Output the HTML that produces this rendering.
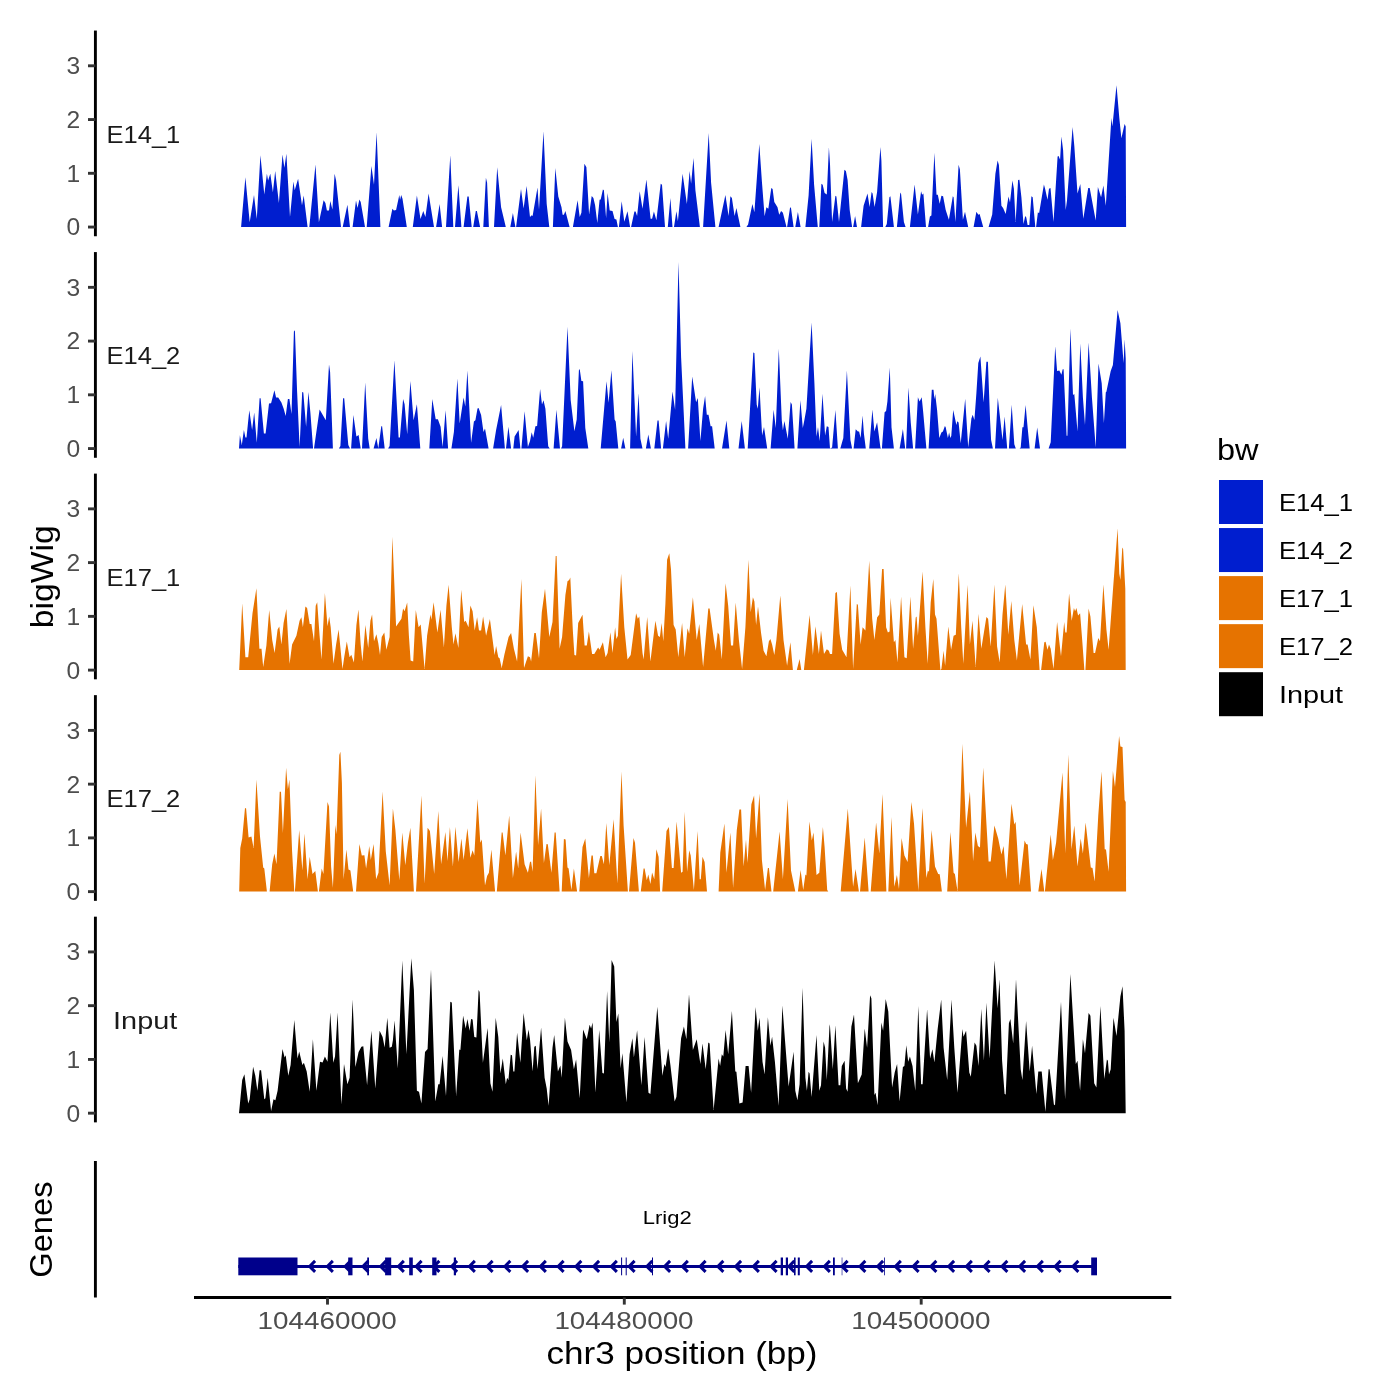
<!DOCTYPE html>
<html><head><meta charset="utf-8"><title>bigWig tracks</title>
<style>html,body{margin:0;padding:0;background:#fff;width:1400px;height:1400px;overflow:hidden;font-family:"Liberation Sans",sans-serif}</style>
</head><body>
<svg width="1400" height="1400" viewBox="0 0 1400 1400" style="display:block;will-change:transform">
<rect width="1400" height="1400" fill="#fff"/>
<g font-family="'Liberation Sans', sans-serif">
<path d="M241.1,227.1L241.1,227.1L245.4,177.3L249.7,222.3L254.0,195.1L256.8,219.1L260.4,155.3L264.3,194.5L266.9,173.7L268.1,180.6L270.3,173.7L272.9,192.3L275.2,170.9L278.9,203.1L282.5,154.4L284.4,167.7L286.4,153.8L290.0,217.0L293.4,181.6L294.7,190.2L298.1,178.8L302.0,205.2L303.7,195.6L307.6,227.1L309.3,227.1L315.5,164.5L318.9,222.3L323.6,200.3L325.4,203.1L326.9,210.6L329.0,210.6L330.3,200.9L332.4,209.5L334.6,173.7L336.1,180.6L341.0,227.1L342.7,227.1L347.4,204.8L350.0,227.1L352.6,227.1L356.0,200.5L357.5,208.0L359.4,199.4L360.7,202.0L365.0,227.1L366.7,227.1L371.4,166.0L374.0,184.8L376.6,132.3L380.4,227.1L388.6,227.1L392.4,208.8L393.9,210.6L396.1,210.1L399.3,195.1L400.1,199.8L401.2,195.1L402.5,198.8L406.8,227.1L412.8,227.1L416.9,195.6L420.5,219.1L423.3,211.0L425.4,217.0L428.6,193.4L434.0,227.1L436.1,227.1L439.6,204.1L442.1,227.1L446.0,227.1L450.3,155.3L453.3,227.1L455.0,227.1L458.4,185.3L461.4,227.1L463.6,227.1L467.4,196.6L468.7,196.6L471.7,227.1L473.2,227.1L475.8,211.0L476.9,211.0L480.1,227.1L483.3,227.1L485.9,177.8L487.1,182.7L488.9,227.1L494.0,227.1L497.2,167.3L501.1,207.3L505.8,227.1L510.3,227.1L512.9,213.1L515.4,227.1L516.1,227.1L521.0,189.1L523.6,208.4L526.6,185.9L530.0,217.0L531.7,215.3L532.6,215.9L537.5,187.4L539.0,209.5L543.5,131.3L546.7,204.1L549.3,227.1L552.9,227.1L555.3,168.1L558.3,196.6L561.5,207.3L562.6,214.8L563.9,214.8L565.4,211.0L569.6,227.1L572.9,227.1L577.6,200.3L579.7,217.0L581.4,212.7L584.4,163.8L586.4,167.3L589.1,214.4L591.7,196.0L593.4,198.1L595.1,205.2L597.3,223.0L599.6,199.8L600.7,199.4L602.9,189.6L603.9,190.2L606.1,218.1L607.6,193.0L609.7,210.6L612.5,211.0L614.6,219.1L616.4,219.6L617.9,227.1L618.9,227.1L621.7,201.3L624.3,221.7L627.5,211.2L630.1,227.1L631.1,227.1L634.4,211.6L635.6,211.6L637.1,215.9L639.7,191.3L642.5,208.8L646.4,179.5L650.6,218.7L652.1,218.7L653.9,211.6L656.4,220.2L660.7,183.8L662.0,184.8L665.0,227.1L667.8,227.1L670.4,198.1L672.5,227.1L674.0,227.1L676.4,211.2L677.9,221.3L682.6,173.7L686.9,204.1L689.6,170.9L691.1,183.8L693.5,158.1L695.4,190.2L699.9,227.1L703.1,227.1L708.7,133.0L711.1,182.7L715.4,227.1L718.6,227.1L725.4,195.1L728.6,215.9L730.4,196.2L731.9,198.1L734.6,215.9L736.4,208.0L740.4,227.1L746.4,227.1L748.1,224.5L752.4,204.1L754.4,212.3L759.3,144.1L761.9,181.6L764.6,216.3L766.4,207.3L768.3,208.8L771.3,188.1L772.6,189.1L774.3,202.0L777.5,207.3L779.2,214.8L781.1,211.0L782.9,212.7L786.5,227.1L787.1,227.1L790.1,207.3L791.0,208.0L793.6,227.1L795.3,227.1L797.9,212.1L800.6,227.1L805.4,227.1L808.6,195.6L811.6,138.8L814.1,184.8L817.8,227.1L819.3,227.1L821.4,183.8L822.7,184.8L824.6,193.0L826.8,194.5L828.9,147.3L830.0,164.1L832.1,221.9L835.4,195.8L836.4,196.6L839.0,221.9L844.4,169.8L845.9,171.1L847.6,180.1L849.7,210.1L852.1,227.1L853.1,227.1L855.1,215.9L857.0,227.1L861.1,227.1L863.6,205.8L867.5,193.4L869.6,206.9L871.6,191.9L872.6,193.4L874.6,206.9L877.1,191.9L880.4,146.9L881.4,160.8L883.1,227.1L885.3,227.1L886.8,224.1L889.4,197.3L890.4,196.2L893.9,227.1L896.9,227.1L900.3,192.6L901.1,194.1L903.9,221.9L905.6,227.1L909.9,227.1L914.6,184.4L917.9,214.4L921.1,191.3L922.1,194.7L923.4,193.4L926.0,227.1L928.1,227.1L929.9,216.6L931.4,215.5L934.4,152.7L936.5,194.7L937.8,194.7L939.7,203.7L941.4,195.8L943.1,196.2L945.7,210.1L948.9,219.8L952.8,196.2L953.6,197.3L955.4,221.9L958.6,164.7L959.9,169.4L962.9,219.8L965.0,211.8L968.2,227.1L973.6,227.1L976.4,211.8L978.3,214.8L979.6,214.0L983.2,227.1L988.6,227.1L992.2,214.4L995.4,173.7L997.6,160.4L998.9,165.1L1001.4,205.8L1003.1,208.0L1005.7,214.0L1008.5,196.6L1010.0,202.6L1012.4,180.6L1013.9,188.7L1015.6,221.9L1018.1,180.1L1019.4,179.7L1021.4,197.3L1023.5,224.1L1025.2,216.1L1026.3,217.6L1027.6,225.1L1029.3,225.1L1031.4,196.2L1032.7,197.3L1035.3,227.1L1036.1,227.1L1037.9,212.3L1039.1,213.3L1043.9,184.4L1045.1,188.7L1047.5,199.8L1049.0,188.7L1050.5,188.1L1053.5,221.9L1057.6,156.6L1058.6,155.9L1060.1,159.8L1061.4,136.6L1063.1,150.1L1065.7,210.1L1067.0,200.5L1072.6,127.0L1074.3,145.8L1077.5,193.4L1080.3,184.0L1083.3,218.7L1088.2,188.1L1089.7,188.1L1095.7,220.4L1097.9,187.0L1101.1,197.3L1103.4,185.5L1105.8,205.8L1111.4,118.0L1112.4,126.6L1116.5,85.2L1119.3,118.0L1121.4,138.3L1124.6,124.0L1125.7,126.6L1126.1,227.1L1126.1,227.1Z" fill="#001ECF"/>
<line x1="95.4" x2="95.4" y1="30.55" y2="236.25" stroke="#000" stroke-width="2.9"/>
<line x1="88" x2="95.4" y1="227.05" y2="227.05" stroke="#333" stroke-width="2.9"/>
<text x="80.2" y="235.45" font-size="23.5" fill="#4D4D4D" text-anchor="end" textLength="13.7" lengthAdjust="spacingAndGlyphs">0</text>
<line x1="88" x2="95.4" y1="173.30" y2="173.30" stroke="#333" stroke-width="2.9"/>
<text x="80.2" y="181.70" font-size="23.5" fill="#4D4D4D" text-anchor="end" textLength="13.7" lengthAdjust="spacingAndGlyphs">1</text>
<line x1="88" x2="95.4" y1="119.55" y2="119.55" stroke="#333" stroke-width="2.9"/>
<text x="80.2" y="127.95" font-size="23.5" fill="#4D4D4D" text-anchor="end" textLength="13.7" lengthAdjust="spacingAndGlyphs">2</text>
<line x1="88" x2="95.4" y1="65.80" y2="65.80" stroke="#333" stroke-width="2.9"/>
<text x="80.2" y="74.20" font-size="23.5" fill="#4D4D4D" text-anchor="end" textLength="13.7" lengthAdjust="spacingAndGlyphs">3</text>
<text x="106.50" y="142.55" font-size="24" fill="#1A1A1A" textLength="73.8" lengthAdjust="spacingAndGlyphs">E14_1</text>
<path d="M239.0,448.6L239.0,448.6L239.9,435.3L241.8,444.9L243.9,429.9L245.4,437.4L246.5,437.4L249.3,410.2L252.1,429.9L254.2,412.4L256.8,442.8L259.6,398.2L260.6,398.2L263.9,433.6L265.6,433.6L269.0,403.6L271.1,403.2L274.4,390.3L276.1,397.4L278.2,397.4L281.4,402.5L283.6,408.5L285.7,416.0L287.9,398.9L289.4,398.9L291.5,413.9L293.9,331.4L294.9,330.3L297.1,391.4L299.6,447.1L302.2,392.0L303.3,392.4L306.1,426.7L308.4,392.0L310.4,412.8L313.1,448.6L314.0,448.6L319.6,409.6L325.8,420.3L329.0,364.6L330.1,372.1L332.9,448.6L338.9,448.6L340.4,446.0L343.1,398.2L344.2,398.2L348.3,444.9L350.0,448.6L351.1,448.6L353.4,414.9L356.4,436.4L358.6,434.9L360.7,448.6L362.0,448.6L365.2,382.4L368.2,438.5L369.7,448.6L373.6,448.6L376.4,437.9L378.3,448.2L381.3,426.3L382.1,426.3L384.7,448.6L388.1,448.6L389.6,446.0L394.4,360.3L398.6,437.4L399.9,437.4L403.1,398.9L404.6,404.2L407.2,434.2L410.4,381.1L413.6,420.3L416.9,404.2L420.3,448.6L429.3,448.6L432.3,398.9L435.7,419.2L437.9,419.2L440.6,426.7L442.6,447.1L445.6,410.2L448.1,448.6L451.4,448.6L453.9,432.1L457.4,378.5L459.7,423.5L463.6,397.4L465.3,406.4L467.4,370.6L471.1,442.8L473.9,421.4L475.4,420.3L477.5,408.5L478.6,408.1L481.1,414.9L483.5,432.1L485.0,428.4L488.6,448.6L493.1,448.6L496.1,429.9L501.1,404.9L504.9,448.6L506.0,448.6L508.4,426.7L511.1,448.6L513.3,448.6L514.6,436.4L518.6,429.9L520.4,448.6L521.4,448.6L524.6,411.3L527.9,447.1L530.0,440.9L531.7,432.3L533.2,437.7L535.4,426.3L537.1,425.9L540.1,389.0L542.0,404.4L543.5,400.2L545.4,408.7L548.2,446.2L549.7,448.6L553.6,448.6L556.4,409.8L560.0,448.6L561.1,448.6L562.1,446.2L567.5,326.7L570.7,400.2L574.4,431.2L576.7,419.4L578.9,370.2L579.7,369.1L581.4,380.9L583.1,381.3L585.3,428.0L588.3,448.6L600.7,448.6L606.5,381.3L608.6,402.7L611.4,370.2L614.6,419.4L615.7,421.6L618.3,448.6L621.1,448.6L623.2,437.7L625.4,448.6L630.1,448.6L632.4,350.9L636.1,436.6L638.6,393.3L640.4,438.7L642.5,448.6L645.9,448.6L648.3,434.4L650.9,448.6L654.3,448.6L657.5,420.5L658.6,420.5L661.1,448.6L662.9,448.6L666.1,420.9L668.2,438.7L672.5,391.6L675.1,409.8L678.5,261.9L681.1,357.3L685.4,448.6L688.1,448.6L692.2,376.6L696.1,402.3L697.8,398.0L700.4,440.9L703.1,408.7L705.1,395.9L706.8,414.7L708.5,414.7L710.6,426.3L712.1,426.3L714.7,448.6L722.0,448.6L726.5,420.5L729.3,448.6L738.5,448.6L741.7,420.9L744.9,448.6L747.7,448.6L753.3,352.4L754.4,353.0L756.7,404.4L757.8,408.7L759.5,387.3L762.1,435.5L764.0,426.9L767.2,448.6L770.6,448.6L773.6,409.8L775.8,428.0L778.8,348.7L781.8,420.5L782.9,430.2L784.4,420.9L787.8,438.7L790.6,401.9L791.9,404.4L794.6,448.6L797.4,448.6L800.4,400.2L802.8,428.0L804.3,420.5L806.4,408.7L811.6,322.4L814.4,383.0L816.5,436.6L818.0,426.9L819.7,440.9L822.5,393.7L825.1,435.5L826.8,426.3L828.5,426.9L830.0,448.6L832.1,447.5L835.4,410.0L837.9,448.6L840.3,448.6L843.3,437.9L846.9,370.4L850.4,440.0L852.1,448.6L853.6,448.6L855.7,429.3L857.9,431.4L859.1,431.4L860.6,437.9L862.6,415.4L863.9,433.6L865.8,448.6L869.2,448.6L872.4,409.4L874.4,431.4L877.1,422.2L880.4,447.5L881.0,448.6L881.9,448.6L884.6,412.2L886.1,411.1L887.4,401.4L889.8,367.6L891.5,427.2L893.9,448.6L899.6,448.6L902.9,428.9L905.2,448.6L906.1,448.6L908.4,387.5L910.8,422.9L913.1,448.6L915.1,448.6L917.9,397.2L919.6,401.4L921.7,397.2L923.2,412.2L926.4,448.6L928.6,448.6L931.8,389.7L933.5,389.7L934.4,399.3L935.2,393.9L937.1,410.0L939.3,437.9L941.4,432.5L942.9,431.4L944.9,426.1L945.7,427.2L947.9,437.9L949.1,432.5L950.4,437.9L951.3,435.7L953.2,410.0L956.4,425.0L957.3,421.2L958.6,422.4L960.7,443.2L965.2,398.7L968.2,447.5L971.4,418.6L972.7,414.7L974.4,420.1L976.4,392.9L978.3,362.9L980.4,356.4L983.6,402.5L986.4,361.8L987.9,361.8L990.1,420.7L991.1,440.0L992.9,448.6L995.0,448.6L997.8,397.8L1000.4,420.7L1002.5,440.0L1004.6,416.4L1007.2,448.6L1008.9,448.6L1011.7,404.7L1014.3,444.3L1015.8,448.6L1019.6,448.6L1020.7,447.5L1022.4,427.2L1023.5,427.2L1025.6,405.1L1027.6,427.2L1029.7,448.6L1034.6,448.6L1037.2,427.6L1040.0,448.6L1048.6,448.6L1050.7,442.2L1055.2,346.2L1057.1,371.0L1059.3,370.4L1061.4,374.7L1062.7,369.3L1063.6,369.3L1066.6,435.7L1067.4,435.7L1070.4,328.6L1073.0,395.0L1074.3,393.9L1077.5,431.4L1080.3,343.6L1082.9,397.2L1085.0,425.0L1088.6,342.5L1091.9,397.2L1095.7,447.5L1098.5,363.5L1101.7,383.2L1103.9,422.9L1105.8,392.2L1106.4,391.8L1110.7,371.0L1112.9,365.0L1117.6,309.9L1120.4,323.2L1123.6,362.9L1124.6,339.3L1125.7,358.6L1126.1,448.6L1126.1,448.6Z" fill="#001ECF"/>
<line x1="95.4" x2="95.4" y1="252.08" y2="457.78" stroke="#000" stroke-width="2.9"/>
<line x1="88" x2="95.4" y1="448.58" y2="448.58" stroke="#333" stroke-width="2.9"/>
<text x="80.2" y="456.98" font-size="23.5" fill="#4D4D4D" text-anchor="end" textLength="13.7" lengthAdjust="spacingAndGlyphs">0</text>
<line x1="88" x2="95.4" y1="394.83" y2="394.83" stroke="#333" stroke-width="2.9"/>
<text x="80.2" y="403.23" font-size="23.5" fill="#4D4D4D" text-anchor="end" textLength="13.7" lengthAdjust="spacingAndGlyphs">1</text>
<line x1="88" x2="95.4" y1="341.08" y2="341.08" stroke="#333" stroke-width="2.9"/>
<text x="80.2" y="349.48" font-size="23.5" fill="#4D4D4D" text-anchor="end" textLength="13.7" lengthAdjust="spacingAndGlyphs">2</text>
<line x1="88" x2="95.4" y1="287.33" y2="287.33" stroke="#333" stroke-width="2.9"/>
<text x="80.2" y="295.73" font-size="23.5" fill="#4D4D4D" text-anchor="end" textLength="13.7" lengthAdjust="spacingAndGlyphs">3</text>
<text x="106.50" y="364.08" font-size="24" fill="#1A1A1A" textLength="73.8" lengthAdjust="spacingAndGlyphs">E14_2</text>
<path d="M239.2,670.1L239.2,670.1L242.2,603.3L245.4,657.3L248.2,657.3L252.5,613.3L256.4,588.3L259.4,648.7L261.5,648.7L263.2,666.9L266.4,645.5L269.2,610.1L272.2,640.1L274.6,653.0L277.6,629.4L279.3,626.6L281.4,644.4L283.6,623.0L286.4,609.0L289.6,663.7L292.1,644.4L296.4,635.8L299.6,620.8L301.4,617.2L302.9,627.3L305.4,606.5L307.1,608.0L309.7,624.0L311.4,624.0L314.0,641.2L315.7,605.8L317.2,602.2L319.6,635.8L321.5,659.4L324.9,593.0L327.5,626.2L329.2,616.5L330.7,627.3L333.5,663.7L336.1,644.4L338.6,629.4L342.5,669.0L344.2,657.3L346.8,641.6L349.6,657.3L351.3,654.7L353.9,662.6L356.4,625.1L358.4,609.5L360.7,644.4L362.4,661.5L365.4,625.1L368.2,648.0L370.4,620.8L372.1,614.4L374.0,641.2L376.4,634.3L378.3,643.3L380.0,655.1L381.7,636.9L384.3,632.6L386.4,649.8L389.6,636.9L392.4,536.8L396.1,626.6L401.4,618.7L403.1,608.4L404.6,611.2L407.2,602.6L408.9,635.8L410.6,660.5L413.2,661.5L415.8,610.1L418.6,627.3L420.7,624.5L424.6,669.0L427.1,635.8L430.4,614.4L431.4,619.8L433.6,602.2L437.4,632.6L440.6,609.7L443.9,647.6L446.4,605.8L448.6,584.8L451.8,627.3L453.5,644.4L455.4,633.3L458.4,648.0L461.2,589.8L464.2,621.9L465.7,620.8L468.5,627.3L470.4,605.4L472.6,611.2L474.7,630.5L477.1,617.2L479.0,630.5L481.1,630.5L483.1,616.5L486.1,635.8L489.9,619.1L492.5,639.0L494.6,655.1L496.1,646.1L498.3,657.3L499.6,658.3L501.7,668.0L504.3,655.1L508.6,636.9L511.1,633.0L513.9,648.7L517.1,661.5L521.4,579.0L524.0,668.0L527.9,656.2L530.0,657.3L531.1,661.5L534.3,633.0L535.8,633.0L539.0,658.3L541.8,612.3L545.0,588.7L549.3,636.9L552.5,621.9L555.7,556.1L556.6,556.1L559.6,648.7L562.1,636.9L565.4,595.1L567.5,581.2L569.2,580.1L570.3,577.5L572.9,631.5L574.4,655.1L576.1,655.5L578.2,623.0L582.5,614.8L584.6,645.5L586.8,645.5L588.9,631.5L592.1,654.0L594.3,654.0L598.1,647.6L599.6,649.8L602.9,642.3L605.6,657.3L607.6,653.0L610.4,632.2L612.5,653.0L615.1,627.3L616.4,639.0L617.9,635.8L621.1,573.7L624.3,627.3L627.5,659.4L630.7,655.1L636.1,613.3L637.8,618.7L639.3,616.5L642.5,653.0L643.6,659.4L647.2,617.0L650.4,661.5L655.4,620.8L658.1,635.8L659.9,636.9L661.6,623.0L663.3,641.2L665.4,603.7L667.1,559.8L669.3,553.3L671.0,569.4L673.6,625.1L675.7,629.4L678.3,657.3L682.1,623.0L684.7,657.3L687.5,628.3L689.2,633.7L692.9,597.3L696.7,640.1L699.3,624.0L703.1,666.9L708.3,608.4L709.6,608.4L713.9,640.1L715.8,650.8L717.7,632.6L719.2,634.8L721.8,659.4L725.6,583.3L728.2,605.8L731.0,645.5L733.1,645.5L735.7,602.6L738.9,640.1L742.1,669.0L745.4,627.3L748.4,559.8L750.7,612.3L752.9,597.3L754.4,601.5L756.1,625.1L758.0,606.5L761.0,632.6L763.6,650.8L766.4,656.2L768.9,641.2L770.4,639.0L772.1,644.4L774.3,655.1L776.4,640.1L780.3,595.5L783.5,640.1L787.1,665.8L790.4,642.3L792.9,670.1L796.8,670.1L799.6,659.0L801.3,670.1L803.9,670.1L809.6,615.0L812.9,655.1L815.4,626.2L818.9,654.0L821.0,630.5L824.0,654.0L826.8,649.3L828.9,650.8L830.0,654.0L832.1,654.0L835.4,593.0L836.9,591.9L839.6,633.7L842.2,649.8L846.5,657.3L850.4,585.5L853.1,669.0L856.8,604.1L857.9,604.8L860.6,644.4L862.6,627.3L865.4,630.5L869.2,560.8L872.2,618.7L874.4,640.1L877.1,617.6L879.3,614.4L882.1,569.0L883.6,569.0L886.1,627.3L887.9,632.6L889.6,631.5L890.6,597.7L893.9,642.3L895.4,640.1L897.5,662.6L901.1,596.6L904.4,657.3L906.7,658.3L910.4,596.6L913.1,648.7L915.7,617.6L916.6,616.5L917.9,635.8L922.6,571.5L925.4,627.3L927.7,663.7L930.7,602.6L933.3,579.0L935.0,614.4L936.5,618.7L940.4,670.1L941.4,669.0L943.6,650.8L945.1,665.8L948.3,626.6L951.1,649.8L953.6,635.8L955.8,634.8L958.8,573.3L961.1,625.1L963.3,663.7L967.6,584.8L969.9,644.4L972.5,620.8L975.7,666.9L978.5,613.8L981.3,648.7L986.4,617.0L988.1,618.7L990.7,646.5L994.4,584.4L997.1,646.5L999.7,662.6L1002.5,614.4L1005.3,584.4L1008.3,634.8L1011.3,601.1L1014.3,640.1L1016.9,660.5L1022.2,604.1L1026.1,644.4L1027.6,644.4L1030.4,659.4L1033.4,605.2L1036.8,627.3L1039.6,670.1L1041.1,670.1L1044.3,642.3L1045.6,641.8L1047.5,649.8L1049.0,644.4L1050.7,648.7L1053.5,669.0L1057.1,621.9L1061.0,656.2L1064.2,621.9L1065.3,632.6L1066.6,632.6L1069.1,593.4L1071.7,620.8L1073.9,608.0L1075.1,611.2L1076.4,608.0L1078.1,615.5L1080.1,613.3L1082.2,640.1L1084.4,670.1L1085.4,670.1L1088.6,608.6L1090.4,616.5L1093.6,653.0L1095.1,653.0L1098.3,638.0L1100.0,641.2L1103.4,584.4L1106.4,629.4L1108.6,649.8L1112.9,590.8L1117.6,528.3L1119.3,573.7L1120.4,580.1L1122.3,547.5L1123.1,549.0L1125.3,588.7L1125.7,670.1L1125.7,670.1Z" fill="#E67300"/>
<line x1="95.4" x2="95.4" y1="473.61" y2="679.31" stroke="#000" stroke-width="2.9"/>
<line x1="88" x2="95.4" y1="670.11" y2="670.11" stroke="#333" stroke-width="2.9"/>
<text x="80.2" y="678.51" font-size="23.5" fill="#4D4D4D" text-anchor="end" textLength="13.7" lengthAdjust="spacingAndGlyphs">0</text>
<line x1="88" x2="95.4" y1="616.36" y2="616.36" stroke="#333" stroke-width="2.9"/>
<text x="80.2" y="624.76" font-size="23.5" fill="#4D4D4D" text-anchor="end" textLength="13.7" lengthAdjust="spacingAndGlyphs">1</text>
<line x1="88" x2="95.4" y1="562.61" y2="562.61" stroke="#333" stroke-width="2.9"/>
<text x="80.2" y="571.01" font-size="23.5" fill="#4D4D4D" text-anchor="end" textLength="13.7" lengthAdjust="spacingAndGlyphs">2</text>
<line x1="88" x2="95.4" y1="508.86" y2="508.86" stroke="#333" stroke-width="2.9"/>
<text x="80.2" y="517.26" font-size="23.5" fill="#4D4D4D" text-anchor="end" textLength="13.7" lengthAdjust="spacingAndGlyphs">3</text>
<text x="106.50" y="585.61" font-size="24" fill="#1A1A1A" textLength="73.8" lengthAdjust="spacingAndGlyphs">E17_1</text>
<path d="M239.2,891.6L239.2,891.6L240.3,848.1L242.2,838.5L245.0,808.1L246.1,808.5L248.6,837.4L251.4,836.4L253.6,848.1L256.4,779.6L260.0,836.4L263.2,867.4L264.3,868.5L266.9,891.6L269.6,891.6L272.2,864.2L274.4,853.5L276.5,864.2L279.7,791.8L281.0,791.8L282.9,833.1L286.1,767.8L287.9,789.2L289.4,779.6L292.1,851.4L294.3,891.6L294.9,891.6L299.2,829.9L302.4,870.6L304.4,833.6L307.6,879.2L309.7,856.7L312.5,873.9L315.3,871.1L317.9,891.6L318.9,891.6L321.7,868.5L323.4,873.9L327.5,802.1L329.0,806.4L331.1,866.4L332.9,887.8L335.4,825.0L336.5,834.2L339.3,754.9L340.4,751.7L341.9,782.8L343.6,879.2L346.4,849.6L348.5,869.6L350.4,870.6L353.2,891.6L356.0,891.6L359.4,843.9L361.8,855.6L364.4,855.2L366.1,868.5L369.3,846.0L370.8,859.9L373.6,843.9L376.1,879.2L378.5,872.8L382.6,791.4L385.8,851.4L389.6,885.6L392.9,808.5L395.4,829.9L399.3,880.3L402.3,832.5L405.3,865.3L407.9,842.8L410.4,827.8L413.9,891.6L416.0,891.6L421.4,795.6L424.6,883.5L427.6,827.8L429.9,831.0L434.2,873.9L438.3,811.1L441.1,864.2L445.4,832.1L447.5,861.0L449.9,827.1L452.9,866.4L455.4,826.7L458.6,862.1L461.4,838.5L463.6,859.9L467.4,828.2L470.4,857.8L472.6,850.3L474.3,855.6L477.5,798.9L480.3,842.8L481.8,839.6L485.0,885.6L487.1,876.0L488.9,872.8L491.4,849.6L495.1,891.6L496.8,891.6L501.7,832.5L502.6,832.5L505.4,855.6L509.2,815.6L512.9,878.1L516.1,851.4L518.2,868.5L520.6,832.5L524.6,864.2L527.9,872.8L530.0,862.1L531.1,861.6L532.6,871.7L535.4,775.3L538.1,844.9L541.1,808.5L543.9,863.1L546.5,843.9L547.8,844.3L551.4,872.8L554.6,832.5L555.7,832.5L559.6,891.6L561.7,891.6L563.9,838.9L565.6,839.6L567.5,867.4L568.6,868.5L571.4,889.9L573.9,868.5L577.1,891.6L579.3,891.6L582.5,847.1L585.3,838.5L588.9,878.1L591.5,855.6L592.8,855.6L594.3,873.2L596.4,873.2L600.3,856.1L601.8,856.1L603.9,864.2L606.3,823.1L609.3,865.3L613.6,819.2L617.4,883.5L621.5,771.6L623.6,825.6L627.9,891.6L629.0,891.6L633.5,838.1L635.0,842.8L638.9,891.6L640.8,891.6L643.6,868.5L644.6,868.5L646.8,880.3L648.3,874.5L650.4,883.9L652.1,872.4L654.3,879.2L656.4,849.2L658.6,856.7L660.1,891.6L662.2,891.6L666.5,831.0L668.9,827.1L671.9,868.1L673.6,868.1L676.6,821.4L681.1,872.8L682.6,871.7L684.7,811.7L687.1,871.7L689.2,850.3L690.7,855.6L693.9,889.9L697.6,831.0L699.7,879.2L700.8,879.2L702.5,856.7L704.6,862.1L707.0,891.6L718.6,891.6L720.3,852.4L724.4,823.5L726.5,872.8L730.4,832.5L733.1,887.8L736.8,829.9L739.4,809.6L741.1,809.6L743.6,866.4L746.0,839.6L747.5,863.1L751.4,804.2L754.1,795.6L756.1,838.5L759.5,793.5L761.9,859.9L765.1,889.9L767.9,868.1L768.9,868.1L771.5,891.6L773.2,891.6L779.6,831.4L782.9,879.2L787.6,798.9L791.0,870.6L795.3,891.6L797.9,891.6L800.6,870.0L803.2,889.9L805.4,874.5L806.4,875.4L809.4,821.4L811.8,840.6L813.5,832.5L816.5,874.9L819.3,872.8L822.9,827.1L824.6,847.1L827.2,889.9L828.3,891.6L840.7,891.6L847.8,808.5L853.1,886.7L855.5,868.9L858.9,891.6L860.0,891.6L864.7,837.4L868.6,891.6L870.7,891.6L876.1,822.4L879.3,853.5L882.5,793.9L886.4,891.6L888.3,891.6L891.5,817.1L894.3,886.7L896.9,874.9L899.0,888.9L901.6,837.9L904.4,855.6L907.6,862.1L911.4,802.1L914.0,823.5L918.3,891.0L922.4,807.9L926.4,878.1L927.9,870.6L929.0,871.7L931.6,829.9L935.0,866.4L938.2,873.9L939.7,874.3L941.9,891.6L947.2,891.6L950.4,832.1L953.6,872.8L954.9,873.9L957.5,891.0L962.4,743.8L966.1,827.8L969.9,791.4L973.1,861.0L975.3,832.5L977.9,846.0L980.0,847.5L983.2,767.4L988.6,861.4L990.7,861.4L994.4,825.6L998.2,838.5L1001.4,854.6L1003.6,846.0L1006.4,879.2L1011.5,803.8L1014.3,824.6L1015.6,821.8L1019.6,885.6L1024.6,840.6L1026.1,843.9L1027.8,844.5L1031.0,891.6L1038.3,891.6L1041.5,868.9L1044.3,891.6L1044.9,891.6L1050.7,834.6L1052.9,859.9L1056.1,842.8L1062.5,772.5L1065.3,853.5L1068.3,754.5L1071.5,849.2L1074.3,825.6L1077.5,866.4L1080.7,838.5L1082.9,853.5L1085.6,822.4L1090.8,867.4L1092.5,868.1L1094.6,881.4L1098.3,814.9L1101.5,771.6L1104.7,849.2L1106.0,849.6L1108.6,871.7L1112.9,771.0L1115.0,787.1L1119.1,736.1L1120.4,746.4L1122.5,747.0L1124.6,799.9L1125.7,802.1L1126.1,891.6L1126.1,891.6Z" fill="#E67300"/>
<line x1="95.4" x2="95.4" y1="695.14" y2="900.84" stroke="#000" stroke-width="2.9"/>
<line x1="88" x2="95.4" y1="891.64" y2="891.64" stroke="#333" stroke-width="2.9"/>
<text x="80.2" y="900.04" font-size="23.5" fill="#4D4D4D" text-anchor="end" textLength="13.7" lengthAdjust="spacingAndGlyphs">0</text>
<line x1="88" x2="95.4" y1="837.89" y2="837.89" stroke="#333" stroke-width="2.9"/>
<text x="80.2" y="846.29" font-size="23.5" fill="#4D4D4D" text-anchor="end" textLength="13.7" lengthAdjust="spacingAndGlyphs">1</text>
<line x1="88" x2="95.4" y1="784.14" y2="784.14" stroke="#333" stroke-width="2.9"/>
<text x="80.2" y="792.54" font-size="23.5" fill="#4D4D4D" text-anchor="end" textLength="13.7" lengthAdjust="spacingAndGlyphs">2</text>
<line x1="88" x2="95.4" y1="730.39" y2="730.39" stroke="#333" stroke-width="2.9"/>
<text x="80.2" y="738.79" font-size="23.5" fill="#4D4D4D" text-anchor="end" textLength="13.7" lengthAdjust="spacingAndGlyphs">3</text>
<text x="106.50" y="807.14" font-size="24" fill="#1A1A1A" textLength="73.8" lengthAdjust="spacingAndGlyphs">E17_2</text>
<path d="M239.0,1113.2L239.0,1113.2L242.2,1080.0L244.4,1074.2L248.2,1103.5L249.7,1099.2L253.1,1066.7L255.3,1075.7L257.4,1090.7L259.6,1070.3L261.1,1070.3L264.3,1099.2L265.4,1098.2L267.7,1077.8L271.1,1111.0L273.5,1099.2L275.4,1100.3L277.6,1090.7L282.5,1048.9L284.6,1057.5L285.7,1055.3L288.3,1075.7L290.6,1065.0L294.3,1020.0L297.5,1058.5L299.2,1051.5L302.4,1065.0L303.9,1062.8L306.7,1071.4L309.7,1091.7L312.9,1039.2L316.4,1090.7L320.0,1061.7L322.6,1062.4L324.9,1056.4L327.5,1061.7L330.3,1012.5L333.3,1062.8L335.0,1056.4L337.6,1012.5L341.4,1104.6L344.0,1063.9L347.4,1084.2L349.6,1077.8L352.6,999.6L355.4,1067.1L358.6,1052.1L361.4,1046.7L363.3,1046.3L367.1,1085.3L371.4,1030.7L375.3,1088.5L379.6,1030.7L382.6,1037.1L384.7,1047.4L387.3,1017.8L389.6,1047.8L391.8,1046.7L392.9,1040.3L394.6,1020.4L397.8,1068.2L402.3,960.4L406.4,1054.2L411.3,958.2L413.9,990.0L416.9,1090.7L419.0,1091.7L421.4,1103.5L425.0,1052.1L427.6,1048.9L431.0,969.6L435.3,1101.4L438.3,1084.2L439.6,1084.2L442.6,1056.0L446.0,1096.0L450.3,1001.7L451.8,1002.4L456.1,1096.0L459.3,1049.5L460.4,1050.0L463.1,1015.7L465.7,1028.5L467.4,1018.9L469.6,1030.7L471.1,1018.9L472.6,1019.5L474.3,1037.1L476.4,1037.5L478.6,990.0L479.6,992.1L482.9,1062.8L487.6,1028.1L490.4,1083.2L492.5,1091.7L495.7,1017.8L498.3,1037.1L500.4,1073.5L502.8,1058.5L505.8,1084.2L507.1,1077.8L508.4,1080.0L510.7,1054.7L512.0,1055.3L513.3,1071.4L514.4,1071.4L517.1,1032.8L520.4,1062.8L523.6,1013.1L526.8,1040.3L528.5,1029.6L530.0,1039.2L532.6,1071.4L534.3,1046.7L535.8,1045.7L537.5,1069.2L541.1,1027.5L544.6,1077.8L546.7,1088.5L548.6,1105.7L552.5,1047.8L554.2,1035.0L557.9,1071.4L560.4,1065.4L561.7,1077.8L564.9,1017.8L567.5,1041.4L571.1,1050.0L573.9,1069.2L576.1,1059.6L579.7,1098.2L583.1,1029.6L586.8,1039.2L589.6,1024.7L591.1,1028.5L592.6,1022.5L595.4,1092.8L599.2,1030.0L602.4,1073.1L603.9,1073.5L607.1,991.0L609.3,1042.5L611.6,960.0L614.2,966.4L616.4,1022.1L618.3,1013.5L620.6,1068.2L622.4,1053.2L626.4,1102.5L629.6,1054.2L632.4,1038.2L633.9,1057.5L637.1,1030.2L641.4,1085.3L644.6,1037.1L648.5,1092.8L650.4,1093.9L657.3,1006.7L662.4,1075.7L664.4,1063.9L665.6,1067.1L668.2,1048.5L670.4,1065.0L674.6,1101.4L676.4,1097.1L681.1,1038.2L683.9,1026.4L686.4,1039.2L689.0,994.2L692.9,1050.0L696.7,1039.2L700.4,1063.9L702.5,1043.5L705.7,1069.2L708.3,1042.5L709.6,1043.5L713.6,1110.0L718.6,1058.5L720.1,1066.0L721.8,1054.2L723.3,1056.4L725.6,1030.0L728.2,1054.2L731.9,1011.0L735.3,1071.4L736.4,1071.8L739.4,1103.5L742.6,1102.5L745.6,1066.0L748.6,1066.0L751.1,1092.8L755.6,1007.1L757.8,1030.7L759.5,1017.8L762.5,1061.7L764.6,1074.6L767.9,1017.2L770.4,1045.7L772.1,1036.7L774.9,1061.7L778.6,1105.7L782.4,1005.6L785.0,1040.3L788.6,1086.4L793.6,1051.7L795.3,1090.7L797.4,1100.3L799.6,1084.2L802.6,987.8L805.4,1077.8L806.9,1090.7L808.6,1071.8L809.6,1073.5L811.6,1097.1L816.5,1035.0L819.3,1090.7L821.0,1085.3L823.6,1041.4L825.1,1047.8L826.8,1080.0L829.6,1024.2L830.0,1026.4L832.8,1069.2L835.4,1025.3L838.6,1085.3L840.3,1085.3L841.8,1066.0L844.6,1060.7L846.1,1088.5L847.6,1091.7L851.4,1026.4L854.0,1014.6L857.9,1083.2L861.7,1074.6L864.7,1028.5L867.1,1047.8L870.1,995.3L871.4,998.5L874.4,1095.0L875.6,1092.8L877.6,1105.2L881.4,1022.5L883.1,1030.7L885.7,999.0L888.3,1011.4L892.1,1087.5L894.7,1072.5L897.1,1063.9L899.6,1101.4L902.9,1067.1L904.4,1066.0L906.3,1045.2L908.2,1061.7L909.9,1056.4L912.5,1066.0L915.3,1090.7L918.3,1006.0L921.1,1084.2L922.6,1084.2L927.1,1009.2L930.1,1058.5L932.4,1049.3L934.4,1062.4L937.6,1029.6L941.2,999.6L943.6,1047.8L947.2,1080.0L951.5,999.6L954.3,1047.8L957.5,1092.8L962.4,1029.0L963.5,1036.7L966.1,1030.7L969.3,1072.5L970.8,1076.7L974.6,1042.5L976.4,1045.7L978.5,1066.0L981.3,1008.8L983.9,1060.7L986.4,1002.8L989.6,1058.5L994.6,960.4L997.6,1008.2L999.5,979.2L1002.1,1060.7L1004.6,1093.9L1005.7,1094.5L1008.9,1023.2L1010.4,1018.9L1013.2,1043.5L1016.0,979.2L1020.7,1069.2L1022.4,1080.0L1026.1,1021.0L1029.7,1071.4L1032.1,1045.7L1036.4,1093.9L1038.3,1071.4L1041.7,1071.4L1045.4,1111.7L1048.6,1069.2L1049.6,1069.2L1053.9,1104.6L1055.0,1105.2L1061.0,1001.7L1065.1,1099.2L1070.4,973.9L1075.8,1063.9L1077.5,1060.7L1080.1,1090.7L1082.9,1039.2L1085.0,1053.2L1088.6,1013.1L1090.4,1015.7L1094.2,1083.2L1096.4,1087.5L1100.4,1006.0L1104.3,1078.9L1106.9,1059.6L1107.9,1060.7L1109.0,1074.6L1110.7,1069.2L1113.5,1017.8L1116.5,1036.0L1120.4,996.4L1122.5,986.3L1124.6,1030.7L1125.7,1113.2L1125.7,1113.2Z" fill="#000000"/>
<line x1="95.4" x2="95.4" y1="916.67" y2="1122.37" stroke="#000" stroke-width="2.9"/>
<line x1="88" x2="95.4" y1="1113.17" y2="1113.17" stroke="#333" stroke-width="2.9"/>
<text x="80.2" y="1121.57" font-size="23.5" fill="#4D4D4D" text-anchor="end" textLength="13.7" lengthAdjust="spacingAndGlyphs">0</text>
<line x1="88" x2="95.4" y1="1059.42" y2="1059.42" stroke="#333" stroke-width="2.9"/>
<text x="80.2" y="1067.82" font-size="23.5" fill="#4D4D4D" text-anchor="end" textLength="13.7" lengthAdjust="spacingAndGlyphs">1</text>
<line x1="88" x2="95.4" y1="1005.67" y2="1005.67" stroke="#333" stroke-width="2.9"/>
<text x="80.2" y="1014.07" font-size="23.5" fill="#4D4D4D" text-anchor="end" textLength="13.7" lengthAdjust="spacingAndGlyphs">2</text>
<line x1="88" x2="95.4" y1="951.92" y2="951.92" stroke="#333" stroke-width="2.9"/>
<text x="80.2" y="960.32" font-size="23.5" fill="#4D4D4D" text-anchor="end" textLength="13.7" lengthAdjust="spacingAndGlyphs">3</text>
<text x="113.10" y="1028.67" font-size="24" fill="#1A1A1A" textLength="64.2" lengthAdjust="spacingAndGlyphs">Input</text>
<text transform="translate(52.7,576.7) rotate(-90)" font-size="30.5" fill="#000" text-anchor="middle" textLength="103" lengthAdjust="spacingAndGlyphs">bigWig</text>
<text transform="translate(52.4,1229.6) rotate(-90)" font-size="30.5" fill="#000" text-anchor="middle" textLength="96.2" lengthAdjust="spacingAndGlyphs">Genes</text>
<line x1="95.4" x2="95.4" y1="1161" y2="1297.5" stroke="#000" stroke-width="2.9"/>
<line x1="194" x2="1171.3" y1="1297.5" y2="1297.5" stroke="#000" stroke-width="2.9"/>
<line x1="327.5" x2="327.5" y1="1297.5" y2="1304.6" stroke="#333" stroke-width="2.9"/>
<text x="257.60" y="1329" font-size="23.5" fill="#4D4D4D" textLength="139.2" lengthAdjust="spacingAndGlyphs">104460000</text>
<line x1="624.3" x2="624.3" y1="1297.5" y2="1304.6" stroke="#333" stroke-width="2.9"/>
<text x="554.40" y="1329" font-size="23.5" fill="#4D4D4D" textLength="139.2" lengthAdjust="spacingAndGlyphs">104480000</text>
<line x1="921.2" x2="921.2" y1="1297.5" y2="1304.6" stroke="#333" stroke-width="2.9"/>
<text x="851.30" y="1329" font-size="23.5" fill="#4D4D4D" textLength="139.2" lengthAdjust="spacingAndGlyphs">104500000</text>
<text x="546.6" y="1363.7" font-size="30.5" fill="#000" textLength="270.9" lengthAdjust="spacingAndGlyphs">chr3 position (bp)</text>
<line x1="238.3" x2="1092" y1="1266.4" y2="1266.4" stroke="#00008B" stroke-width="3"/>
<rect x="238.3" y="1257.5" width="59.2" height="17.8" fill="#00008B"/>
<rect x="348.2" y="1257.5" width="4.30" height="17.8" fill="#00008B"/>
<rect x="367.2" y="1257.5" width="1.80" height="17.8" fill="#00008B"/>
<rect x="385.1" y="1257.5" width="6.10" height="17.8" fill="#00008B"/>
<rect x="409.2" y="1257.5" width="3.60" height="17.8" fill="#00008B"/>
<rect x="432.2" y="1257.5" width="4.30" height="17.8" fill="#00008B"/>
<rect x="453.8" y="1257.5" width="2.20" height="17.8" fill="#00008B"/>
<rect x="621.1" y="1257.5" width="1.00" height="17.8" fill="#00008B"/>
<rect x="625.7" y="1257.5" width="1.00" height="17.8" fill="#00008B"/>
<rect x="652.0" y="1257.5" width="1.00" height="17.8" fill="#00008B"/>
<rect x="780.7" y="1257.5" width="2.30" height="17.8" fill="#00008B"/>
<rect x="785.8" y="1257.5" width="2.20" height="17.8" fill="#00008B"/>
<rect x="794.0" y="1257.5" width="1.60" height="17.8" fill="#00008B"/>
<rect x="797.8" y="1257.5" width="2.00" height="17.8" fill="#00008B"/>
<rect x="833.0" y="1257.5" width="1.80" height="17.8" fill="#00008B"/>
<rect x="884.1" y="1257.5" width="0.80" height="17.8" fill="#00008B"/>
<rect x="1091.2" y="1257.5" width="5.80" height="17.8" fill="#00008B"/>
<rect x="841.5" y="1257.5" width="1.1" height="17.8" fill="#00008B" opacity="0.55"/>
<path d="M315.10,1260.90L309.60,1266.40L315.10,1271.90M332.85,1260.90L327.35,1266.40L332.85,1271.90M350.60,1260.90L345.10,1266.40L350.60,1271.90M368.35,1260.90L362.85,1266.40L368.35,1271.90M386.10,1260.90L380.60,1266.40L386.10,1271.90M403.85,1260.90L398.35,1266.40L403.85,1271.90M421.60,1260.90L416.10,1266.40L421.60,1271.90M439.35,1260.90L433.85,1266.40L439.35,1271.90M457.10,1260.90L451.60,1266.40L457.10,1271.90M474.85,1260.90L469.35,1266.40L474.85,1271.90M492.60,1260.90L487.10,1266.40L492.60,1271.90M510.35,1260.90L504.85,1266.40L510.35,1271.90M528.10,1260.90L522.60,1266.40L528.10,1271.90M545.85,1260.90L540.35,1266.40L545.85,1271.90M563.60,1260.90L558.10,1266.40L563.60,1271.90M581.35,1260.90L575.85,1266.40L581.35,1271.90M599.10,1260.90L593.60,1266.40L599.10,1271.90M616.85,1260.90L611.35,1266.40L616.85,1271.90M634.60,1260.90L629.10,1266.40L634.60,1271.90M652.35,1260.90L646.85,1266.40L652.35,1271.90M670.10,1260.90L664.60,1266.40L670.10,1271.90M687.85,1260.90L682.35,1266.40L687.85,1271.90M705.60,1260.90L700.10,1266.40L705.60,1271.90M723.35,1260.90L717.85,1266.40L723.35,1271.90M741.10,1260.90L735.60,1266.40L741.10,1271.90M758.85,1260.90L753.35,1266.40L758.85,1271.90M776.60,1260.90L771.10,1266.40L776.60,1271.90M794.35,1260.90L788.85,1266.40L794.35,1271.90M812.10,1260.90L806.60,1266.40L812.10,1271.90M829.85,1260.90L824.35,1266.40L829.85,1271.90M847.60,1260.90L842.10,1266.40L847.60,1271.90M865.35,1260.90L859.85,1266.40L865.35,1271.90M883.10,1260.90L877.60,1266.40L883.10,1271.90M900.85,1260.90L895.35,1266.40L900.85,1271.90M918.60,1260.90L913.10,1266.40L918.60,1271.90M936.35,1260.90L930.85,1266.40L936.35,1271.90M954.10,1260.90L948.60,1266.40L954.10,1271.90M971.85,1260.90L966.35,1266.40L971.85,1271.90M989.60,1260.90L984.10,1266.40L989.60,1271.90M1007.35,1260.90L1001.85,1266.40L1007.35,1271.90M1025.10,1260.90L1019.60,1266.40L1025.10,1271.90M1042.85,1260.90L1037.35,1266.40L1042.85,1271.90M1060.60,1260.90L1055.10,1266.40L1060.60,1271.90M1078.35,1260.90L1072.85,1266.40L1078.35,1271.90" fill="none" stroke="#00008B" stroke-width="3" stroke-linejoin="miter"/>
<text x="642.8" y="1224" font-size="19" fill="#000" textLength="48.9" lengthAdjust="spacingAndGlyphs">Lrig2</text>
<text x="1217" y="460" font-size="29.5" fill="#000" textLength="41.6" lengthAdjust="spacingAndGlyphs">bw</text>
<rect x="1219" y="480.00" width="44" height="44" fill="#001ECF"/>
<text x="1278.9" y="510.50" font-size="24" fill="#000" textLength="74.2" lengthAdjust="spacingAndGlyphs">E14_1</text>
<rect x="1219" y="528.05" width="44" height="44" fill="#001ECF"/>
<text x="1278.9" y="558.55" font-size="24" fill="#000" textLength="74.2" lengthAdjust="spacingAndGlyphs">E14_2</text>
<rect x="1219" y="576.10" width="44" height="44" fill="#E67300"/>
<text x="1278.9" y="606.60" font-size="24" fill="#000" textLength="74.2" lengthAdjust="spacingAndGlyphs">E17_1</text>
<rect x="1219" y="624.15" width="44" height="44" fill="#E67300"/>
<text x="1278.9" y="654.65" font-size="24" fill="#000" textLength="74.2" lengthAdjust="spacingAndGlyphs">E17_2</text>
<rect x="1219" y="672.20" width="44" height="44" fill="#000000"/>
<text x="1278.9" y="702.70" font-size="24" fill="#000" textLength="64.2" lengthAdjust="spacingAndGlyphs">Input</text>
</g></svg>
</body></html>
